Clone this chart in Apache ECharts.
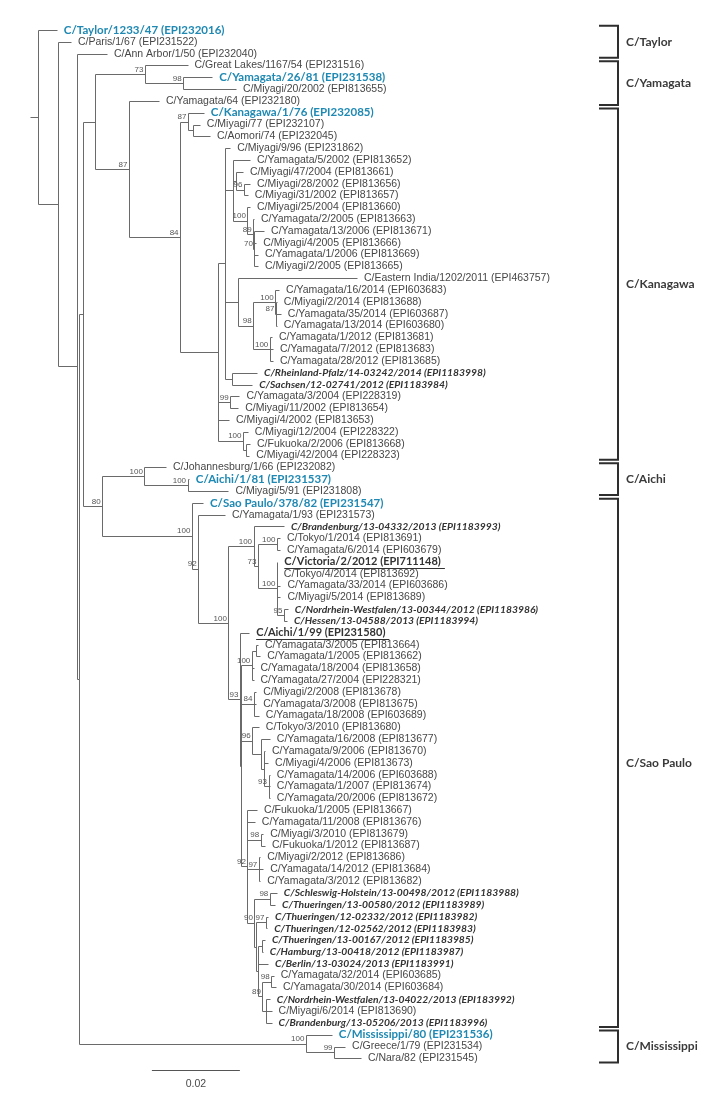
<!DOCTYPE html>
<html>
<head>
<meta charset="utf-8">
<script src="https://cdn.jsdelivr.net/npm/echarts@6/dist/echarts.min.js"></script>
<style>
html, body { margin: 0; padding: 0; background: #fff; }
#tree { width: 726px; height: 1099px; }
</style>
</head>
<body>
<div id="tree"></div>
<script>
// strains, top to bottom
var leafNames = [
  'C/Taylor/1233/47 (EPI232016)', 'C/Paris/1/67 (EPI231522)', 'C/Ann Arbor/1/50 (EPI232040)',
  'C/Great Lakes/1167/54 (EPI231516)', 'C/Yamagata/26/81 (EPI231538)', 'C/Miyagi/20/2002 (EPI813655)',
  'C/Yamagata/64 (EPI232180)', 'C/Kanagawa/1/76 (EPI232085)', 'C/Miyagi/77 (EPI232107)',
  'C/Aomori/74 (EPI232045)', 'C/Miyagi/9/96 (EPI231862)', 'C/Yamagata/5/2002 (EPI813652)',
  'C/Miyagi/47/2004 (EPI813661)', 'C/Miyagi/28/2002 (EPI813656)', 'C/Miyagi/31/2002 (EPI813657)',
  'C/Miyagi/25/2004 (EPI813660)', 'C/Yamagata/2/2005 (EPI813663)', 'C/Yamagata/13/2006 (EPI813671)',
  'C/Miyagi/4/2005 (EPI813666)', 'C/Yamagata/1/2006 (EPI813669)', 'C/Miyagi/2/2005 (EPI813665)',
  'C/Eastern India/1202/2011 (EPI463757)', 'C/Yamagata/16/2014 (EPI603683)', 'C/Miyagi/2/2014 (EPI813688)',
  'C/Yamagata/35/2014 (EPI603687)', 'C/Yamagata/13/2014 (EPI603680)', 'C/Yamagata/1/2012 (EPI813681)',
  'C/Yamagata/7/2012 (EPI813683)', 'C/Yamagata/28/2012 (EPI813685)',
  'C/Rheinland-Pfalz/14-03242/2014 (EPI1183998)', 'C/Sachsen/12-02741/2012 (EPI1183984)',
  'C/Yamagata/3/2004 (EPI228319)', 'C/Miyagi/11/2002 (EPI813654)', 'C/Miyagi/4/2002 (EPI813653)',
  'C/Miyagi/12/2004 (EPI228322)', 'C/Fukuoka/2/2006 (EPI813668)', 'C/Miyagi/42/2004 (EPI228323)',
  'C/Johannesburg/1/66 (EPI232082)', 'C/Aichi/1/81 (EPI231537)', 'C/Miyagi/5/91 (EPI231808)',
  'C/Sao Paulo/378/82 (EPI231547)', 'C/Yamagata/1/93 (EPI231573)',
  'C/Brandenburg/13-04332/2013 (EPI1183993)', 'C/Tokyo/1/2014 (EPI813691)', 'C/Yamagata/6/2014 (EPI603679)',
  'C/Victoria/2/2012 (EPI711148)', 'C/Tokyo/4/2014 (EPI813692)', 'C/Yamagata/33/2014 (EPI603686)',
  'C/Miyagi/5/2014 (EPI813689)', 'C/Nordrhein-Westfalen/13-00344/2012 (EPI1183986)',
  'C/Hessen/13-04588/2013 (EPI1183994)', 'C/Aichi/1/99 (EPI231580)', 'C/Yamagata/3/2005 (EPI813664)',
  'C/Yamagata/1/2005 (EPI813662)', 'C/Yamagata/18/2004 (EPI813658)', 'C/Yamagata/27/2004 (EPI228321)',
  'C/Miyagi/2/2008 (EPI813678)', 'C/Yamagata/3/2008 (EPI813675)', 'C/Yamagata/18/2008 (EPI603689)',
  'C/Tokyo/3/2010 (EPI813680)', 'C/Yamagata/16/2008 (EPI813677)', 'C/Yamagata/9/2006 (EPI813670)',
  'C/Miyagi/4/2006 (EPI813673)', 'C/Yamagata/14/2006 (EPI603688)', 'C/Yamagata/1/2007 (EPI813674)',
  'C/Yamagata/20/2006 (EPI813672)', 'C/Fukuoka/1/2005 (EPI813667)', 'C/Yamagata/11/2008 (EPI813676)',
  'C/Miyagi/3/2010 (EPI813679)', 'C/Fukuoka/1/2012 (EPI813687)', 'C/Miyagi/2/2012 (EPI813686)',
  'C/Yamagata/14/2012 (EPI813684)', 'C/Yamagata/3/2012 (EPI813682)',
  'C/Schleswig-Holstein/13-00498/2012 (EPI1183988)', 'C/Thueringen/13-00580/2012 (EPI1183989)',
  'C/Thueringen/12-02332/2012 (EPI1183982)', 'C/Thueringen/12-02562/2012 (EPI1183983)',
  'C/Thueringen/13-00167/2012 (EPI1183985)', 'C/Hamburg/13-00418/2012 (EPI1183987)',
  'C/Berlin/13-03024/2013 (EPI1183991)', 'C/Yamagata/32/2014 (EPI603685)', 'C/Yamagata/30/2014 (EPI603684)',
  'C/Nordrhein-Westfalen/13-04022/2013 (EPI183992)', 'C/Miyagi/6/2014 (EPI813690)',
  'C/Brandenburg/13-05206/2013 (EPI1183996)', 'C/Mississippi/80 (EPI231536)',
  'C/Greece/1/79 (EPI231534)', 'C/Nara/82 (EPI231545)'
];

// distance of each tip from the root (substitutions/site)
var leafDist = [
  0.0044, 0.0076, 0.0158, 0.0341, 0.0397, 0.0451, 0.0276, 0.0378, 0.0369, 0.0392,
  0.0438, 0.0483, 0.0467, 0.0483, 0.0478, 0.0483, 0.0492, 0.0515, 0.0497, 0.0501,
  0.0501, 0.0726, 0.0549, 0.0544, 0.0553, 0.0544, 0.0533, 0.0535, 0.0535, 0.0499,
  0.0488, 0.0459, 0.0456, 0.0435, 0.0478, 0.0483, 0.0481, 0.0292, 0.0344, 0.0434,
  0.0376, 0.0426, 0.0560, 0.0551, 0.0551, 0.0545, 0.0544, 0.0552, 0.0552, 0.0569,
  0.0567, 0.0481, 0.0501, 0.0506, 0.0491, 0.0491, 0.0497, 0.0497, 0.0503, 0.0503,
  0.0528, 0.0517, 0.0524, 0.0528, 0.0528, 0.0528, 0.0499, 0.0494, 0.0513, 0.0517,
  0.0506, 0.0513, 0.0506, 0.0544, 0.0540, 0.0524, 0.0522, 0.0517, 0.0512, 0.0524,
  0.0537, 0.0542, 0.0528, 0.0532, 0.0532, 0.0669, 0.0699, 0.0735
];

var referenceStrains = [0, 4, 7, 38, 40, 85];
var germanStrains = [29, 30, 42, 49, 50, 73, 74, 75, 76, 77, 78, 79, 82, 84];
var keyStrains = [45, 51];

// internal nodes: id, distance from root, bootstrap, children (tip index or node id)
var nodes = [
  ['R', 0, null, [0, 'A']],
  ['A', 0.0047, null, [1, 'B']],
  ['B', 0.0090, null, [2, 'C']],
  ['C', 0.0094, null, ['D', 'MS']],
  ['D', 0.0103, null, ['E', 'F']],
  ['E', 0.0131, null, ['G', 'K1']],
  ['G', 0.0244, 73, [3, 'H']],
  ['H', 0.0331, 98, [4, 5]],
  ['K1', 0.0208, 87, [6, 'K2']],
  ['K2', 0.0324, 84, ['K3', 'K4']],
  ['K3', 0.0342, 87, [7, 'K5']],
  ['K5', 0.0353, null, [8, 9]],
  ['K4', 0.0410, null, ['K6', 'K7', 33, 'K8']],
  ['K6', 0.0427, null, [10, 'Q1', 'Q2', 'RS']],
  ['Q1', 0.0444, null, [11, 'S1', 'Q1b']],
  ['S1', 0.0452, null, [12, 'Q1a']],
  ['Q1a', 0.0469, 96, [13, 14]],
  ['Q1b', 0.0477, 100, [15, 'Q1c']],
  ['Q1c', 0.0490, 89, [16, 'Q1d']],
  ['Q1d', 0.0493, 70, [17, 18, 19, 20]],
  ['Q2', 0.0455, null, [21, 'Q2a']],
  ['Q2a', 0.0490, 98, ['Q2b', 'Q2d']],
  ['Q2b', 0.0540, 100, [22, 'Q2c']],
  ['Q2c', 0.0542, 87, [23, 24, 25]],
  ['Q2d', 0.0528, 100, [26, 27, 28]],
  ['RS', 0.0442, null, [29, 30]],
  ['K7', 0.0438, 99, [31, 32]],
  ['K8', 0.0467, 100, [34, 'K9']],
  ['K9', 0.0473, null, [35, 36]],
  ['F', 0.0147, 80, ['J', 'SP']],
  ['J', 0.0243, 100, [37, 'J2']],
  ['J2', 0.0341, 100, [38, 39]],
  ['SP', 0.0351, 100, [40, 'SP2']],
  ['SP2', 0.0365, 92, [41, 'SP3']],
  ['SP3', 0.0434, 100, ['V', 'A99']],
  ['V', 0.0491, 100, [42, 'V2']],
  ['V2', 0.0501, 73, ['V3', 'V4']],
  ['V3', 0.0544, 100, [43, 44]],
  ['V4', 0.0544, 100, [45, 46, 47, 48, 'V5']],
  ['V5', 0.0560, 95, [49, 50]],
  ['A99', 0.0460, 93, [51, 'Ab']],
  ['Ab', 0.0462, null, ['Y1', 'Y3', 'Y4', 'A2']],
  ['Y1', 0.0487, 100, ['Y2', 54, 55]],
  ['Y2', 0.0497, null, [52, 53]],
  ['Y3', 0.0492, 84, [56, 57, 58]],
  ['Y4', 0.0488, 96, [59, 'Y5']],
  ['Y5', 0.0507, null, [60, 'Y6']],
  ['Y6', 0.0515, null, [61, 62, 'Y7']],
  ['Y7', 0.0525, 93, [63, 64, 65]],
  ['A2', 0.0477, 92, [66, 67, 'M1', 'M2', 'N90']],
  ['M1', 0.0507, 98, [68, 69]],
  ['M2', 0.0503, 97, [70, 71, 72]],
  ['N90', 0.0493, 90, ['T1', 'T2']],
  ['T1', 0.0528, 98, [73, 74]],
  ['T2', 0.0497, null, ['T3', 'T4']],
  ['T3', 0.0519, 97, [75, 76]],
  ['T4', 0.0500, null, ['T5', 79, 'T6']],
  ['T5', 0.0510, null, [77, 78]],
  ['T6', 0.0511, 89, ['T7', 'T8']],
  ['T7', 0.0531, 98, [80, 81]],
  ['T8', 0.0519, null, [82, 83, 84]],
  ['MS', 0.0610, 100, [85, 'MS2']],
  ['MS2', 0.0674, 99, [86, 87]]
];

var cladeNames = ['C/Taylor', 'C/Yamagata', 'C/Kanagawa', 'C/Aichi', 'C/Sao Paulo', 'C/Mississippi'];
var cladeFirst = [0, 3, 7, 37, 40, 85];
var cladeLast = [2, 6, 36, 39, 84, 87];

var scaleBarLength = 0.02;
var scaleBarLabel = '0.02';

// ---- layout ----
var nodeById = {};
nodes.forEach(function (n) { nodeById[n[0]] = { x: n[1], bs: n[2], kids: n[3] }; });

function pos(c) {
  if (typeof c === 'number') return { x: leafDist[c], y: c };
  var n = nodeById[c];
  if (n.y === undefined) {
    var first = pos(n.kids[0]);
    var last = pos(n.kids[n.kids.length - 1]);
    n.y = (first.y + last.y) / 2;
  }
  return n;
}

var branches = [];
var support = [];
nodes.forEach(function (n) {
  var me = pos(n[0]);
  var kids = n[3].map(pos);
  branches.push([me.x, kids[0].y, me.x, kids[kids.length - 1].y]);
  kids.forEach(function (k) { branches.push([me.x, k.y, k.x, k.y]); });
  if (n[2] != null) support.push([me.x, me.y, n[2]]);
});
var root = pos('R');
branches.push([-0.0017, root.y, 0, root.y]);

var tips = leafDist.map(function (d, i) { return [d, i]; });
var clades = cladeNames.map(function (n, i) { return [cladeFirst[i], cladeLast[i]]; });

var LINE = '#6a6a6a';
var FONT_NORMAL = '10.5px "Liberation Sans", Arial, sans-serif';
var FONT_REF = 'bold 11.5px Lato, sans-serif';
var FONT_DE = 'italic bold 10.3px Lato, sans-serif';
var FONT_KEY = 'bold 11px Lato, sans-serif';
var measure = document.createElement('canvas').getContext('2d');

function px(v) { return Math.round(v) + 0.5; }

var chart = echarts.init(document.getElementById('tree'));
chart.setOption({
  animation: false,
  backgroundColor: '#fff',
  grid: { left: 28.7, top: 30, width: 448.8, height: 1063.8 },
  xAxis: { type: 'value', min: -0.002, max: 0.1, show: false },
  yAxis: { type: 'value', min: 0, max: 90, inverse: true, show: false },
  series: [
    {
      type: 'custom',
      clip: false,
      silent: true,
      data: branches,
      encode: { x: [0, 2], y: [1, 3] },
      renderItem: function (params, api) {
        var a = api.coord([api.value(0), api.value(1)]);
        var b = api.coord([api.value(2), api.value(3)]);
        return {
          type: 'line',
          shape: { x1: px(a[0]), y1: px(a[1]), x2: px(b[0]), y2: px(b[1]) },
          style: { stroke: LINE, lineWidth: 1 }
        };
      }
    },
    {
      type: 'custom',
      clip: false,
      silent: true,
      data: tips,
      encode: { x: 0, y: 1 },
      renderItem: function (params, api) {
        var i = params.dataIndex;
        var p = api.coord([api.value(0), api.value(1)]);
        var name = leafNames[i];
        var font = FONT_NORMAL, fill = '#474747';
        if (referenceStrains.indexOf(i) >= 0) { font = FONT_REF; fill = '#1f89b3'; }
        else if (germanStrains.indexOf(i) >= 0) { font = FONT_DE; fill = '#333'; }
        else if (keyStrains.indexOf(i) >= 0) { font = FONT_KEY; fill = '#333'; }
        var tx = p[0] + 7;
        var text = {
          type: 'text', x: tx, y: p[1],
          style: { text: name, font: font, fill: fill, align: 'left', verticalAlign: 'middle' }
        };
        if (keyStrains.indexOf(i) < 0) return text;
        measure.font = font;
        var w = measure.measureText(name).width;
        return {
          type: 'group',
          children: [text, {
            type: 'line',
            shape: { x1: tx, y1: px(p[1] + 6), x2: tx + w + 4, y2: px(p[1] + 6) },
            style: { stroke: '#333', lineWidth: 1 }
          }]
        };
      }
    },
    {
      type: 'custom',
      clip: false,
      silent: true,
      data: support,
      encode: { x: 0, y: 1 },
      renderItem: function (params, api) {
        var p = api.coord([api.value(0), api.value(1)]);
        return {
          type: 'text', x: p[0] - 1.5, y: p[1] - 0.5,
          style: {
            text: String(api.value(2)), font: '8px "Liberation Sans", Arial, sans-serif',
            fill: '#555', align: 'right', verticalAlign: 'bottom'
          }
        };
      }
    },
    {
      type: 'custom',
      clip: false,
      silent: true,
      data: clades,
      encode: { y: [0, 1] },
      renderItem: function (params, api) {
        var top = api.coord([0, api.value(0) - 0.35])[1];
        var bot = api.coord([0, api.value(1) + 0.35])[1];
        var x0 = 599, x1 = 618;
        return {
          type: 'group',
          children: [{
            type: 'polyline',
            shape: { points: [[x0, top], [x1, top], [x1, bot], [x0, bot]] },
            style: { stroke: '#2e2e2e', lineWidth: 2, fill: null }
          }, {
            type: 'text', x: 626, y: (top + bot) / 2,
            style: {
              text: cladeNames[params.dataIndex], font: 'bold 12px Lato, sans-serif',
              fill: '#3a3a3a', align: 'left', verticalAlign: 'middle'
            }
          }]
        };
      }
    },
    {
      type: 'custom',
      clip: false,
      silent: true,
      data: [[0.026, 88]],
      encode: { x: 0, y: 1 },
      renderItem: function (params, api) {
        var a = api.coord([api.value(0), api.value(1)]);
        var b = api.coord([api.value(0) + scaleBarLength, api.value(1)]);
        return {
          type: 'group',
          children: [{
            type: 'line',
            shape: { x1: a[0], y1: px(a[1]), x2: b[0], y2: px(a[1]) },
            style: { stroke: '#555', lineWidth: 1 }
          }, {
            type: 'text', x: (a[0] + b[0]) / 2, y: a[1] + 14,
            style: {
              text: scaleBarLabel, font: FONT_NORMAL, fill: '#4a4a4a',
              align: 'center', verticalAlign: 'middle'
            }
          }]
        };
      }
    }
  ]
});
</script>
</body>
</html>
